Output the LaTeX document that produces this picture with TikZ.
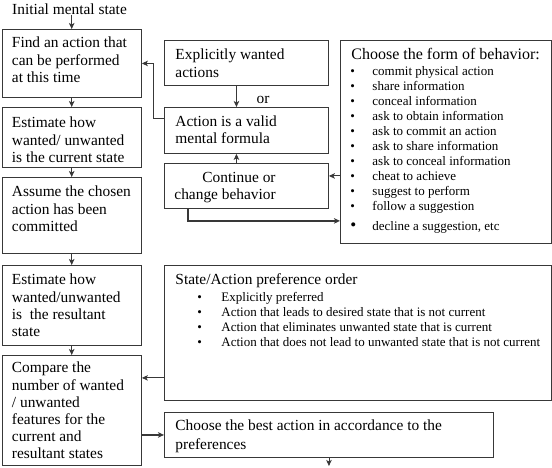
\documentclass[tikz,border=0pt]{standalone}
\usepackage{fontspec}
\setmainfont{Liberation Serif}
\usetikzlibrary{arrows.meta}
\newcommand\bt[4]{\begin{minipage}[c][#1][t]{#2}\raggedright\parskip=0pt\relax\vspace*{#3}#4\end{minipage}}
\newcommand\mf{\fontsize{15.4}{17.2}\selectfont}
\newcommand\smf{\fontsize{13}{15}\selectfont}
\newcommand\blf{\makebox[22pt][l]{\textbullet}}
\newcommand\blp{\makebox[24pt][l]{\textbullet}}
\definecolor{ln}{gray}{0.22}
\tikzset{
  box/.style={draw=ln, line width=0.9pt, inner sep=0pt, anchor=north west},
  arr/.style={draw=ln, line width=0.9pt, -{Stealth[length=6pt,width=5.5pt,inset=1.5pt]}},
  thickline/.style={line width=1.7pt},
}
\begin{document}
\begin{tikzpicture}[x=1pt,y=-1pt]
\useasboundingbox (0,0) rectangle (552,468);
\node[anchor=base west, inner sep=0pt, font=\mf] (init) at (12,14.5) {Initial mental state};
\node[box] (b1) at (1.5,29) {\bt{68pt}{139.5pt}{6.5pt}{\mf\leftskip=10pt\relax\strut Find an action that\\can be performed\\at this time\par}};
\node[box] (b2) at (1.5,107) {\bt{60pt}{139.5pt}{8.5pt}{\mf\leftskip=10pt\relax\strut Estimate how\\wanted/ unwanted\\is the current state\par}};
\node[box] (b3) at (1.5,177) {\bt{76pt}{139.5pt}{7.5pt}{\mf\leftskip=10pt\relax\strut Assume the chosen\\action has been\\committed\par}};
\node[box] (b4) at (1.5,265) {\bt{80pt}{139.5pt}{7.5pt}{\mf\leftskip=10pt\relax\strut Estimate how\\wanted/unwanted\\is\ \ the resultant\\state\par}};
\node[box] (b5) at (1.5,355) {\bt{110pt}{139.5pt}{5.5pt}{\mf\leftskip=10pt\relax\strut Compare the\\number of wanted\\/ unwanted\\features for the\\current and\\resultant states\par}};
\node[box] (expl) at (164,40) {\bt{45pt}{164pt}{7.4pt}{\mf\leftskip=11pt\relax\strut Explicitly wanted\\actions\par}};
\node[font=\mf] (or) at (263,100) {or};
\node[box] (act) at (164,107) {\bt{46pt}{164pt}{7.2pt}{\mf\leftskip=11pt\relax\strut Action is a valid\\mental formula\par}};
\node[box] (cont) at (164,163) {\bt{45pt}{164pt}{7.2pt}{\mf\leftskip=10pt\relax\strut\hspace*{28pt}Continue or\\change behavior\par}};
\node[box] (form) at (340,40) {\bt{203pt}{211pt}{7.6pt}{%
  {\fontsize{16}{17}\selectfont\leftskip=11pt\relax\strut Choose the form of behavior:\par}%
  \vspace{1pt}%
  {\smf\leftskip=10pt\relax \blf commit physical action\\\blf share information\\\blf conceal information\\\blf ask to obtain information\\\blf ask to commit an action\\\blf ask to share information\\\blf ask to conceal information\\\blf cheat to achieve\\\blf suggest to perform\\\blf follow a suggestion\par}%
  \vspace{5pt}%
  {\smf\leftskip=10pt\relax \makebox[22pt][l]{\fontsize{17}{15}\selectfont\textbullet}decline a suggestion, etc\par}}};
\node[box] (pref) at (164,265) {\bt{135pt}{387pt}{6.6pt}{%
  {\mf\leftskip=11pt\relax\strut State/Action preference order\par}%
  \vspace{2pt}%
  {\smf\leftskip=33pt\relax \blp Explicitly preferred\\\blp Action that leads to desired state that is not current\\\blp Action that eliminates unwanted state that is current\\\blp Action that does not lead to unwanted state that is not current\par}}};
\node[box] (best) at (164,412) {\bt{45pt}{329pt}{4.6pt}{\fontsize{15.4}{19}\selectfont\leftskip=11pt\relax\strut Choose the best action in accordance to the\\preferences\par}};
\coordinate (end) at (330,466);
\draw[arr] (init.south -| b1.north) -- (b1.north);
\draw[arr] (b1) -- (b2);
\draw[arr] (b2) -- (b3);
\draw[arr] (b3) -- (b4);
\draw[arr] (b4) -- (b5);
\draw[arr] ([xshift=-10pt]expl.south) -- ([xshift=-10pt]act.north);
\draw[arr] ([xshift=-10pt]cont.north) -- ([xshift=-10pt]act.south);
\draw[arr] ([yshift=12pt]act.west) -- ++(-11,0) |- (b1.east);
\draw[arr] ([yshift=10pt]cont.east -| form.west) -- ([yshift=10pt]cont.east);
\draw[arr, thickline] ([xshift=24pt]cont.south west) |- ([yshift=23pt]form.south west);
\draw[arr] ([yshift=23pt]pref.south west) -- ([yshift=23pt]pref.south west -| b5.east);
\draw[arr, thickline] (best.west -| b5.east) -- (best.west);
\draw[arr] (best.south) -- (best.south |- end);
\end{tikzpicture}
\end{document}
